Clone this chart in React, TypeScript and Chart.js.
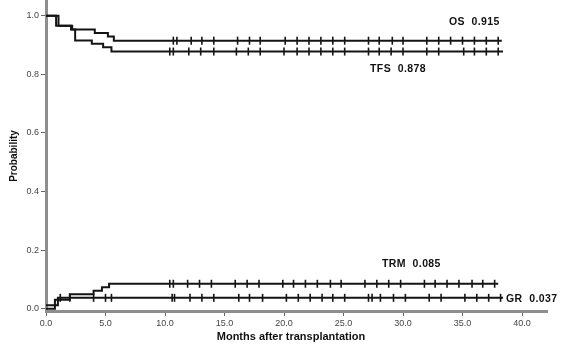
import React, { useEffect, useRef } from "react";
import { Chart, registerables } from "chart.js";

Chart.register(...registerables);

const xTicks = [0, 5, 10, 15, 20, 25, 30, 35, 40];
const yTicks = [0, 0.2, 0.4, 0.6, 0.8, 1.0];

// Overall survival
const osTimes = [0, 1.05, 2.2, 4.1, 5.2, 5.7, 38.3];
const osProb = [1.0, 0.966, 0.953, 0.941, 0.929, 0.915, 0.915];
const osCensor = [10.7, 11.0, 12.2, 13.1, 14.1, 16.1, 17.1, 18.0, 20.1, 21.1, 22.1, 23.1, 24.1, 25.1, 27.1, 28.0, 29.1, 30.0, 32.0, 33.0, 34.0, 35.0, 36.0, 37.0, 38.0];

// Transplant-free survival
const tfsTimes = [0, 0.85, 2.1, 2.45, 3.85, 4.8, 5.5, 38.4];
const tfsProb = [1.0, 0.966, 0.953, 0.916, 0.905, 0.893, 0.878, 0.878];
const tfsCensor = [10.4, 10.7, 12.0, 13.0, 14.1, 16.0, 17.0, 18.0, 20.0, 21.1, 22.1, 23.1, 24.1, 25.1, 27.1, 28.0, 29.0, 30.0, 32.0, 33.0, 35.1, 36.0, 37.0, 38.0];

// Transplant-related mortality
const trmTimes = [0, 0.75, 2.0, 4.0, 4.7, 5.3, 38.0];
const trmProb = [0, 0.03, 0.049, 0.061, 0.073, 0.085, 0.085];
const trmCensor = [10.4, 10.7, 11.9, 12.9, 13.9, 15.9, 16.9, 17.9, 19.9, 20.8, 21.8, 22.8, 23.9, 24.8, 26.8, 27.8, 28.8, 29.8, 31.8, 32.7, 33.7, 34.7, 35.8, 36.7, 37.7];

// Graft rejection
const grTimes = [0, 1.0, 38.4];
const grProb = [0.012, 0.037, 0.037];
const grCensor = [1.2, 2.0, 4.0, 5.0, 5.5, 10.6, 10.8, 12.1, 13.1, 14.1, 16.2, 17.1, 18.2, 20.2, 21.2, 22.2, 23.2, 24.1, 25.1, 27.1, 27.4, 28.1, 29.2, 30.2, 32.2, 33.2, 35.2, 36.2, 37.2, 38.2];

const seriesNames = ["OS", "TFS", "TRM", "GR"];

function stepAt(times: number[], probs: number[], t: number) {
  let v = probs[0];
  for (let i = 0; i < times.length; i++) if (times[i] <= t) v = probs[i];
  return v;
}

const LINE = "#141414";
const AXIS = "#8e8e8e";
const FONT = '"Liberation Sans", Arial, sans-serif';

function curve(times: number[], probs: number[]) {
  return {
    type: "line" as const,
    data: times.map((t, i) => ({ x: t, y: probs[i] })),
    stepped: true,
    borderColor: LINE,
    borderWidth: 2,
    pointRadius: 0,
    fill: false,
  };
}

function censor(times: number[], probs: number[], cens: number[]) {
  return {
    type: "line" as const,
    data: cens.map((t) => ({ x: t, y: stepAt(times, probs, t) })),
    showLine: false,
    pointStyle: "line" as const,
    rotation: 90,
    pointRadius: 4,
    pointBorderWidth: 1.6,
    pointBorderColor: LINE,
    borderColor: LINE,
  };
}

const textPlugin = {
  id: "kmText",
  afterDraw(chart: any) {
    const { ctx, scales } = chart;
    const x = scales.x;
    const y = scales.y;
    ctx.save();
    ctx.fillStyle = "#111";
    ctx.textBaseline = "middle";
    ctx.font = `bold 11px ${FONT}`;
    ctx.textAlign = "center";
    ctx.fillText("Months after transplantation", 291, 337);
    ctx.save();
    ctx.translate(14, 156);
    ctx.rotate(-Math.PI / 2);
    ctx.font = `bold 10px ${FONT}`;
    ctx.fillText("Probability", 0, 0);
    ctx.restore();

    ctx.font = `bold 10.5px ${FONT}`;
    (ctx as any).letterSpacing = "0.4px";
    const last = (a: number[]) => a[a.length - 1];
    // OS
    ctx.textAlign = "right";
    ctx.fillText(`${seriesNames[0]}  ${last(osProb).toFixed(3)}`, x.getPixelForValue(last(osTimes)) - 2, y.getPixelForValue(last(osProb)) - 19);
    // TFS
    ctx.textAlign = "left";
    ctx.fillText(`${seriesNames[1]}  ${last(tfsProb).toFixed(3)}`, 370, y.getPixelForValue(last(tfsProb)) + 18);
    // TRM
    ctx.fillText(`${seriesNames[2]}  ${last(trmProb).toFixed(3)}`, 382, y.getPixelForValue(last(trmProb)) - 20);
    // GR
    ctx.fillText(`${seriesNames[3]}  ${last(grProb).toFixed(3)}`, x.getPixelForValue(last(grTimes)) + 3, y.getPixelForValue(last(grProb)) + 1);
    ctx.restore();
  },
};

export default function App() {
  const ref = useRef<HTMLCanvasElement>(null);
  useEffect(() => {
    if (!ref.current) return;
    const chart = new Chart(ref.current, {
      type: "line",
      data: {
        datasets: [
          curve(osTimes, osProb),
          curve(tfsTimes, tfsProb),
          curve(trmTimes, trmProb),
          curve(grTimes, grProb),
          censor(osTimes, osProb, osCensor),
          censor(tfsTimes, tfsProb, tfsCensor),
          censor(trmTimes, trmProb, trmCensor),
          censor(grTimes, grProb, grCensor),
        ] as any,
      },
      options: {
        animation: false,
        responsive: false,
        layout: { autoPadding: false, padding: { left: 0, right: 20, top: 0, bottom: 0 } },
        plugins: { legend: { display: false }, tooltip: { enabled: false } },
        scales: {
          x: {
            type: "linear",
            min: 0,
            max: 42.1,
            afterBuildTicks: (s: any) => {
              s.ticks = xTicks.map((v) => ({ value: v }));
            },
            afterFit: (s: any) => {
              s.height = 41;
              s.paddingLeft = 0;
              s.paddingRight = 0;
            },
            ticks: {
              callback: (v: any) => Number(v).toFixed(1),
              font: { size: 9, family: FONT },
              color: "#444",
              padding: 2,
              maxRotation: 0,
            },
            grid: { display: true, drawOnChartArea: false, drawTicks: true, tickLength: 5, tickColor: "#666", tickWidth: 1 },
            border: { display: true, color: AXIS, width: 3 },
          },
          y: {
            type: "linear",
            min: -0.008,
            max: 1.054,
            afterBuildTicks: (s: any) => {
              s.ticks = yTicks.map((v) => ({ value: v }));
            },
            afterFit: (s: any) => {
              s.width = 46;
              s.paddingTop = 0;
              s.paddingBottom = 0;
            },
            ticks: {
              callback: (v: any) => Number(v).toFixed(1),
              font: { size: 9, family: FONT },
              color: "#444",
              padding: 2,
            },
            grid: { display: true, drawOnChartArea: false, drawTicks: true, tickLength: 5, tickColor: "#666", tickWidth: 1 },
            border: { display: true, color: AXIS, width: 3 },
          },
        },
      },
      plugins: [textPlugin],
    });
    return () => chart.destroy();
  }, []);
  return (
    <div style={{ position: "fixed", left: 0, top: 0, width: 567, height: 352, background: "#fff" }}>
      <canvas ref={ref} width={567} height={352} style={{ display: "block" }} />
    </div>
  );
}
